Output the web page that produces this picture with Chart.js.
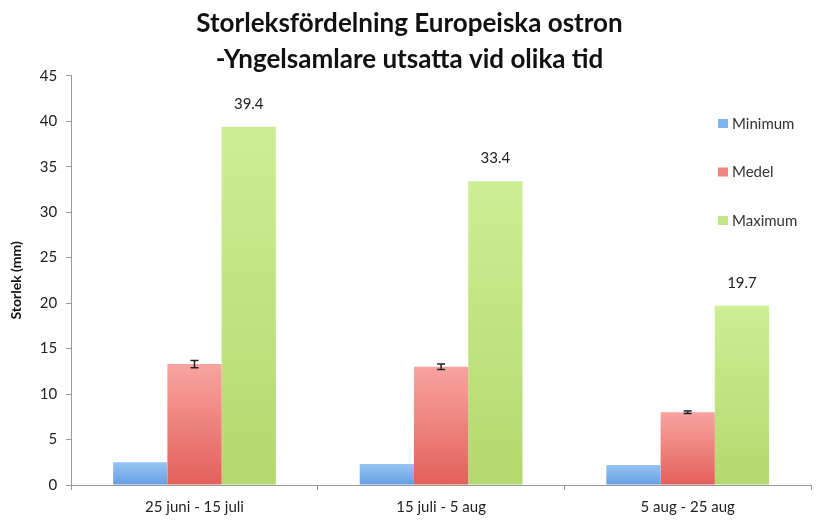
<!DOCTYPE html>
<html>
<head>
<meta charset="utf-8">
<script src="https://cdn.jsdelivr.net/npm/chart.js@4"></script>
<style>
  html, body { margin: 0; padding: 0; background: #fff; }
  #wrap { width: 818px; height: 522px; }
</style>
</head>
<body>
<div id="wrap"><canvas id="oysterChart"></canvas></div>
<script>
const periods = ['25 juni - 15 juli', '15 juli - 5 aug', '5 aug - 25 aug'];
const minData = [2.5, 2.3, 2.2];
const medelData = [13.3, 13.0, 8.0];
const medelErr = [0.4, 0.3, 0.15];
const maxData = [39.4, 33.4, 19.7];
const yTicks = [0, 45, 5]; // min, max, step

const FONT = 'Lato, "Open Sans", sans-serif';

function barGradient(top, bottom, fallback) {
    return (context) => {
        const chart = context.chart;
        if (!chart.chartArea || context.type !== 'data') return fallback;
        const y = chart.scales.y;
        const yTop = y.getPixelForValue(context.raw);
        const yBase = y.getPixelForValue(0);
        if (!isFinite(yTop) || !isFinite(yBase) || yTop === yBase) return fallback;
        const g = chart.ctx.createLinearGradient(0, yTop, 0, yBase);
        g.addColorStop(0, top);
        g.addColorStop(1, bottom);
        return g;
    };
}

// error bars on the Medel series
const errorBars = {
    id: 'errorBars',
    afterDatasetsDraw(chart) {
        const meta = chart.getDatasetMeta(1);
        const y = chart.scales.y;
        const ctx = chart.ctx;
        ctx.save();
        ctx.strokeStyle = '#222';
        ctx.lineWidth = 1.5;
        meta.data.forEach((bar, i) => {
            const v = medelData[i];
            const hi = y.getPixelForValue(v + medelErr[i]);
            const lo = y.getPixelForValue(v - medelErr[i]);
            ctx.beginPath();
            ctx.moveTo(bar.x, hi); ctx.lineTo(bar.x, lo);
            ctx.moveTo(bar.x - 4, hi); ctx.lineTo(bar.x + 4, hi);
            ctx.moveTo(bar.x - 4, lo); ctx.lineTo(bar.x + 4, lo);
            ctx.stroke();
        });
        ctx.restore();
    }
};

// value labels over the Maximum bars
const maxLabels = {
    id: 'maxLabels',
    afterDatasetsDraw(chart) {
        const meta = chart.getDatasetMeta(2);
        const ctx = chart.ctx;
        ctx.save();
        ctx.font = '15px ' + FONT;
        ctx.fillStyle = '#222';
        ctx.textAlign = 'center';
        ctx.textBaseline = 'middle';
        meta.data.forEach((bar, i) => {
            ctx.fillText(maxData[i].toFixed(1), bar.x, bar.y - 23);
        });
        ctx.restore();
    }
};

// legend drawn over the right edge of the plot, like the original
const sideLegend = {
    id: 'sideLegend',
    afterDraw(chart) {
        const ctx = chart.ctx;
        const swatches = ['#7fb3ee', '#f08580', '#c3e684'];
        ctx.save();
        ctx.font = '15px ' + FONT;
        ctx.textBaseline = 'middle';
        chart.data.datasets.forEach((ds, i) => {
            const cy = 124 + i * 48.5;
            ctx.fillStyle = swatches[i];
            ctx.fillRect(718, cy - 5, 10, 9);
            ctx.fillStyle = '#333';
            ctx.fillText(ds.label, 732, cy);
        });
        ctx.restore();
    }
};

new Chart(document.getElementById('oysterChart'), {
    type: 'bar',
    data: {
        labels: periods,
        datasets: [
            {
                label: 'Minimum',
                data: minData,
                backgroundColor: barGradient('#98c3f3', '#639fe2', '#7fb3ee'),
                categoryPercentage: 0.66,
                barPercentage: 1.0
            },
            {
                label: 'Medel',
                data: medelData,
                backgroundColor: barGradient('#f8a4a0', '#e3605a', '#f08580'),
                categoryPercentage: 0.66,
                barPercentage: 1.0
            },
            {
                label: 'Maximum',
                data: maxData,
                backgroundColor: barGradient('#cdee93', '#b3d96e', '#c3e684'),
                categoryPercentage: 0.66,
                barPercentage: 1.0
            }
        ]
    },
    options: {
        responsive: true,
        maintainAspectRatio: false,
        animation: false,
        layout: { padding: { left: 8, right: 7, top: 2, bottom: -2 } },
        plugins: {
            legend: { display: false },
            tooltip: { enabled: false },
            title: {
                display: true,
                text: ['Storleksfördelning Europeiska ostron', '-Yngelsamlare utsatta vid olika tid'],
                color: '#111',
                font: { family: FONT, size: 26, weight: 'bold', lineHeight: 1.38 },
                padding: { top: 4, bottom: -2 }
            }
        },
        scales: {
            x: {
                offset: true,
                grid: {
                    offset: true,
                    drawOnChartArea: false,
                    tickLength: 5,
                    color: '#999'
                },
                border: { color: '#999' },
                ticks: {
                    color: '#222',
                    padding: 8,
                    font: { family: FONT, size: 15 }
                }
            },
            y: {
                min: yTicks[0],
                max: yTicks[1],
                grid: {
                    drawOnChartArea: false,
                    tickLength: 5,
                    color: '#999'
                },
                border: { color: '#999' },
                ticks: {
                    stepSize: yTicks[2],
                    color: '#222',
                    padding: 9,
                    font: { family: FONT, size: 15 }
                },
                title: {
                    display: true,
                    text: 'Storlek (mm)',
                    color: '#111',
                    padding: { top: 0, bottom: 6 },
                    font: { family: FONT, size: 14, weight: 'bold' }
                }
            }
        }
    },
    plugins: [errorBars, maxLabels, sideLegend]
});
</script>
</body>
</html>
